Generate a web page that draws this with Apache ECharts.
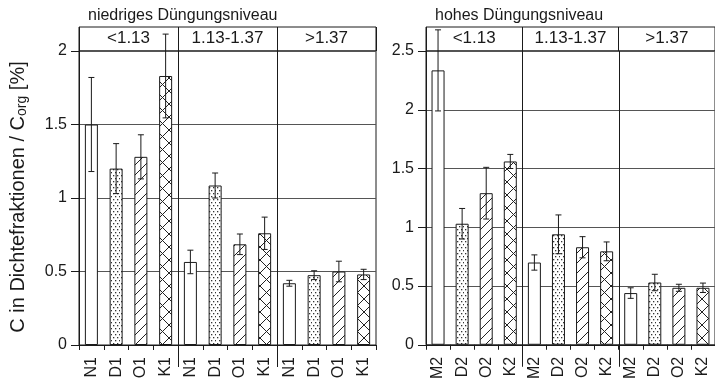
<!DOCTYPE html>
<html>
<head>
<meta charset="utf-8">
<script src="https://cdn.jsdelivr.net/npm/echarts@6/dist/echarts.min.js"></script>
<style>
  html, body { margin: 0; padding: 0; background: #fff; }
  #chart { width: 715px; height: 382px; }
</style>
</head>
<body>
<div id="chart"></div>
<script>
// Density fractions (g/cm³) shown as column headers
const fractionGroups = ['<1.13', '1.13-1.37', '>1.37'];

// Treatments per fraction
const lowCategories  = ['N1', 'D1', 'O1', 'K1', 'N1', 'D1', 'O1', 'K1', 'N1', 'D1', 'O1', 'K1'];
const highCategories = ['M2', 'D2', 'O2', 'K2', 'M2', 'D2', 'O2', 'K2', 'M2', 'D2', 'O2', 'K2'];

// C in density fractions / C_org [%] – low fertilisation level
const lowMeans  = [1.50, 1.20, 1.28, 1.83, 0.565, 1.085, 0.685, 0.76, 0.42, 0.475, 0.50, 0.48];
const lowErrors = [0.32, 0.17, 0.15, 0.285, 0.08, 0.085, 0.07, 0.11, 0.02, 0.03, 0.07, 0.035];

// C in density fractions / C_org [%] – high fertilisation level
const highMeans  = [2.335, 1.03, 1.29, 1.56, 0.70, 0.94, 0.83, 0.795, 0.44, 0.53, 0.485, 0.485];
const highErrors = [0.345, 0.13, 0.22, 0.06, 0.065, 0.165, 0.09, 0.08, 0.045, 0.07, 0.03, 0.04];

// Value axis ranges
const lowAxis  = { min: 0, max: 2,   interval: 0.5 };
const highAxis = { min: 0, max: 2.5, interval: 0.5 };

// Group boundaries (index of first bar in each following group)
const groupStarts = [4, 8];

const FONT = 'Liberation Sans, Arial, Helvetica, sans-serif';
const INK = '#1a1a1a';

// ---- fill patterns ----
function makeCanvas(w, h) {
  const c = document.createElement('canvas');
  c.width = w; c.height = h;
  const ctx = c.getContext('2d');
  ctx.fillStyle = '#fff';
  ctx.fillRect(0, 0, w, h);
  return [c, ctx];
}
function dotPattern() {
  const [c, ctx] = makeCanvas(8, 6);
  ctx.fillStyle = '#333';
  [[1, 1], [5, 1], [3, 4], [7, 4]].forEach(p => ctx.fillRect(p[0], p[1], 1.3, 1.3));
  return { image: c, repeat: 'repeat' };
}
function hatchPattern() {
  const s = 10;
  const [c, ctx] = makeCanvas(s, s);
  ctx.strokeStyle = '#222';
  ctx.lineWidth = 1;
  ctx.beginPath();
  ctx.moveTo(-1, s + 1); ctx.lineTo(s + 1, -1);
  ctx.moveTo(-1, 1); ctx.lineTo(1, -1);
  ctx.moveTo(s - 1, s + 1); ctx.lineTo(s + 1, s - 1);
  ctx.stroke();
  return { image: c, repeat: 'repeat' };
}
function crossPattern() {
  const s = 13;
  const [c, ctx] = makeCanvas(s, s);
  ctx.strokeStyle = '#222';
  ctx.lineWidth = 1;
  ctx.beginPath();
  ctx.moveTo(0, 0); ctx.lineTo(s, s);
  ctx.moveTo(s, 0); ctx.lineTo(0, s);
  ctx.stroke();
  return { image: c, repeat: 'repeat' };
}
const fills = ['#ffffff', dotPattern(), hatchPattern(), crossPattern()];

function barData(values) {
  return values.map((v, i) => ({
    value: v,
    itemStyle: { color: fills[i % 4] }
  }));
}
function errorData(means, errors) {
  return means.map((m, i) => [i, m, errors[i]]);
}

function errorBarItem(params, api) {
  const i = api.value(0), v = api.value(1), e = api.value(2);
  const top = api.coord([i, v + e]);
  const bot = api.coord([i, v - e]);
  const half = 3;
  const st = { stroke: INK, lineWidth: 1 };
  return {
    type: 'group',
    children: [
      { type: 'line', shape: { x1: top[0], y1: top[1], x2: bot[0], y2: bot[1] }, style: st },
      { type: 'line', shape: { x1: top[0] - half, y1: top[1], x2: top[0] + half, y2: top[1] }, style: st },
      { type: 'line', shape: { x1: bot[0] - half, y1: bot[1], x2: bot[0] + half, y2: bot[1] }, style: st }
    ]
  };
}

function separatorItem(params, api) {
  const c = api.coord([api.value(0), 0]);
  const band = api.size([1, 0])[0];
  const x = Math.round(c[0] - band / 2) + 0.5;
  const cs = params.coordSys;
  return {
    type: 'line',
    shape: { x1: x, y1: cs.y, x2: x, y2: cs.y + cs.height + 22 },
    style: { stroke: INK, lineWidth: 1 }
  };
}

// ---- layout of the two panels ----
const panels = [
  { left: 79,  width: 297 },
  { left: 426, width: 293 }
];
const headerTop = 27, headerHeight = 24, plotTop = 51, plotBottom = 37;

const grids = [];
panels.forEach(p => {
  grids.push({ left: p.left, width: p.width, top: plotTop, bottom: plotBottom,
               show: true, borderColor: INK, borderWidth: 1, containLabel: false });
  grids.push({ left: p.left, width: p.width, top: headerTop, height: headerHeight,
               show: true, borderColor: INK, borderWidth: 1, containLabel: false });
});

function mainXAxis(gridIndex, cats) {
  return {
    type: 'category', gridIndex, data: cats, position: 'bottom',
    axisLine: { show: true, lineStyle: { color: INK, width: 1 } },
    axisTick: { show: true, alignWithLabel: false, length: 5, lineStyle: { color: INK } },
    axisLabel: { rotate: 90, fontSize: 16, margin: 12, color: INK, fontFamily: FONT },
    splitLine: { show: false }
  };
}
function headerXAxis(gridIndex) {
  return {
    type: 'category', gridIndex, data: fractionGroups, position: 'bottom',
    axisLine: { show: false }, axisTick: { show: false },
    axisLabel: { inside: true, margin: 4, fontSize: 17, color: INK, fontFamily: FONT },
    splitLine: { show: true, lineStyle: { color: INK, width: 1 } }
  };
}
function mainYAxis(gridIndex, range) {
  return {
    type: 'value', gridIndex, min: range.min, max: range.max, interval: range.interval,
    axisLine: { show: true, lineStyle: { color: INK, width: 1 } },
    axisTick: { show: true, length: 8, lineStyle: { color: INK } },
    axisLabel: { fontSize: 16, margin: 12, color: INK, fontFamily: FONT },
    splitLine: { show: true, lineStyle: { color: '#555', width: 1 } }
  };
}
function headerYAxis(gridIndex) {
  return { type: 'value', gridIndex, show: false, splitLine: { show: false } };
}

const chart = echarts.init(document.getElementById('chart'), null, { renderer: 'canvas' });

chart.setOption({
  backgroundColor: '#fff',
  animation: false,
  title: [
    { text: 'niedriges Düngungsniveau', left: 83, top: 3,
      textStyle: { fontSize: 16, fontWeight: 'normal', color: INK, fontFamily: FONT } },
    { text: 'hohes Düngungsniveau', left: 430, top: 3,
      textStyle: { fontSize: 16, fontWeight: 'normal', color: INK, fontFamily: FONT } }
  ],
  grid: grids,
  xAxis: [
    mainXAxis(0, lowCategories),
    headerXAxis(1),
    mainXAxis(2, highCategories),
    headerXAxis(3)
  ],
  yAxis: [
    mainYAxis(0, lowAxis),
    headerYAxis(1),
    mainYAxis(2, highAxis),
    headerYAxis(3)
  ],
  graphic: [{
    type: 'text',
    x: 18, y: 197,
    rotation: Math.PI / 2,
    style: {
      text: 'C in Dichtefraktionen / C{sub|org} [%]',
      fontSize: 20, fontFamily: FONT, fill: INK,
      align: 'center', verticalAlign: 'middle',
      rich: {
        sub: { fontSize: 14, fontFamily: FONT, fill: INK, padding: [9, 0, 0, 0] }
      }
    }
  }],
  series: [
    { type: 'bar', xAxisIndex: 0, yAxisIndex: 0, barWidth: 13, data: barData(lowMeans),
      itemStyle: { borderColor: INK, borderWidth: 1 }, z: 2 },
    { type: 'custom', xAxisIndex: 0, yAxisIndex: 0, data: errorData(lowMeans, lowErrors),
      renderItem: errorBarItem, z: 4 },
    { type: 'custom', xAxisIndex: 0, yAxisIndex: 0, data: groupStarts.map(g => [g, 0]),
      renderItem: separatorItem, z: 3, clip: false },

    { type: 'bar', xAxisIndex: 2, yAxisIndex: 2, barWidth: 13, data: barData(highMeans),
      itemStyle: { borderColor: INK, borderWidth: 1 }, z: 2 },
    { type: 'custom', xAxisIndex: 2, yAxisIndex: 2, data: errorData(highMeans, highErrors),
      renderItem: errorBarItem, z: 4 },
    { type: 'custom', xAxisIndex: 2, yAxisIndex: 2, data: groupStarts.map(g => [g, 0]),
      renderItem: separatorItem, z: 3, clip: false }
  ]
});
</script>
</body>
</html>
